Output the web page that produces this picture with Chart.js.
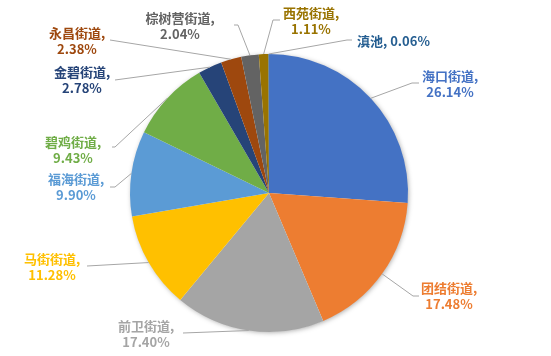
<!DOCTYPE html>
<html><head><meta charset="utf-8">
<script src="https://cdn.jsdelivr.net/npm/chart.js@4"></script>
<style>html,body{margin:0;padding:0;background:#fff}#wrap{width:551px;height:356px}</style>
</head><body><div id="wrap"><canvas id="c" width="551" height="356"></canvas></div>
<script>
const categories = ['海口街道','团结街道','前卫街道','马街街道','福海街道','碧鸡街道','金碧街道','永昌街道','棕树营街道','西苑街道','滇池'];
const values = [26.14, 17.48, 17.40, 11.28, 9.90, 9.43, 2.78, 2.38, 2.04, 1.11, 0.06];
const colors = ['#4472C4','#ED7D31','#A5A5A5','#FFC000','#5B9BD5','#70AD47','#264478','#9E480E','#636363','#997300','#255E91'];
// label layout: text center x, first line y, leader elbow, leader end, single-line flag
const labelLayout = [
  {x:450, y:76,  elbow:[412,83],  end:[419,83]},
  {x:449, y:288, elbow:[413,296], end:[419,296]},
  {x:146, y:326, elbow:[183,333], end:[183,333]},
  {x:52,  y:259, elbow:[87,266],  end:[87,266]},
  {x:76,  y:179, elbow:[115,187], end:[110,187]},
  {x:73,  y:142, elbow:[115,147], end:[112,147]},
  {x:82,  y:72,  elbow:[115,80],  end:[115,80]},
  {x:77,  y:33,  elbow:[110,40],  end:[110,40]},
  {x:180, y:18,  elbow:[238,25],  end:[234,25]},
  {x:311, y:13,  elbow:[273,20],  end:[280,20]},
  {x:357, y:41,  elbow:[347,40],  end:[352,40], single:true}
];
const FONT = 'bold 13px "Noto Sans CJK SC", "Noto Sans", sans-serif';

const labelPlugin = {
  id: 'pieLabels',
  beforeDatasetsDraw(chart) {
    const meta = chart.getDatasetMeta(0);
    const a = meta.data[0];
    const ctx = chart.ctx;
    ctx.save();
    ctx.shadowColor = 'rgba(0,0,0,0.35)';
    ctx.shadowBlur = 5;
    ctx.shadowOffsetX = 1;
    ctx.shadowOffsetY = 1;
    ctx.fillStyle = '#fff';
    ctx.beginPath();
    ctx.arc(a.x, a.y, a.outerRadius - 0.5, 0, Math.PI * 2);
    ctx.fill();
    ctx.restore();
  },
  afterDatasetsDraw(chart) {
    const ctx = chart.ctx;
    const meta = chart.getDatasetMeta(0);
    ctx.save();
    meta.data.forEach((arc, i) => {
      const mid = (arc.startAngle + arc.endAngle) / 2;
      const sx = arc.x + Math.cos(mid) * arc.outerRadius;
      const sy = arc.y + Math.sin(mid) * arc.outerRadius;
      const L = labelLayout[i];
      ctx.strokeStyle = '#A6A6A6';
      ctx.lineWidth = 1;
      ctx.beginPath();
      ctx.moveTo(sx, sy);
      ctx.lineTo(L.elbow[0], L.elbow[1]);
      ctx.lineTo(L.end[0], L.end[1]);
      ctx.stroke();
      ctx.fillStyle = colors[i];
      ctx.font = FONT;
      ctx.textBaseline = 'middle';
      const pct = values[i].toFixed(2) + '%';
      if (L.single) {
        ctx.textAlign = 'left';
        ctx.fillText(categories[i] + ', ' + pct, L.x, L.y);
      } else {
        ctx.textAlign = 'center';
        ctx.fillText(categories[i] + ',', L.x, L.y);
        ctx.fillText(pct, L.x, L.y + 16);
      }
    });
    ctx.restore();
  }
};

new Chart(document.getElementById('c'), {
  type: 'pie',
  data: {
    labels: categories,
    datasets: [{ data: values, backgroundColor: colors, borderWidth: 0 }]
  },
  options: {
    responsive: false,
    animation: false,
    layout: { padding: { top: 54, bottom: 24, left: 0, right: 13 } },
    plugins: { legend: { display: false }, tooltip: { enabled: false } }
  },
  plugins: [labelPlugin]
});
</script>
</body></html>
